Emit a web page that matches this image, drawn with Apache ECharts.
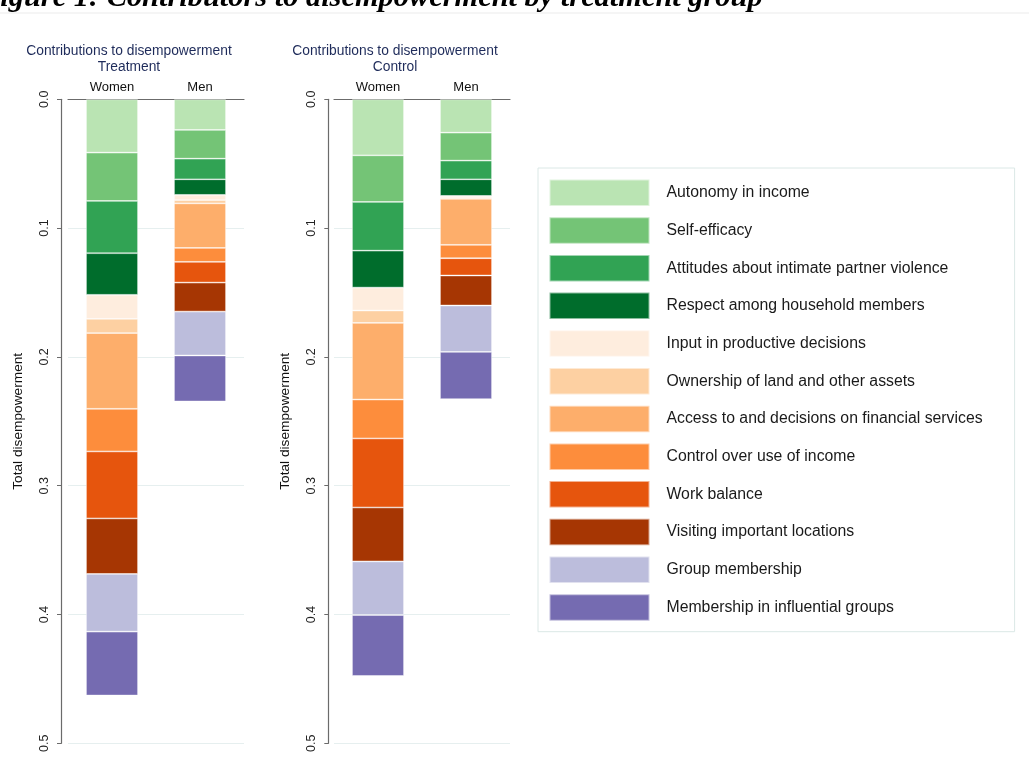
<!DOCTYPE html>
<html>
<head>
<meta charset="utf-8">
<script src="https://cdn.jsdelivr.net/npm/echarts@6/dist/echarts.min.js"></script>
<style>
  html, body { margin: 0; padding: 0; background: #ffffff; }
  #chart { width: 1029px; height: 780px; }
</style>
</head>
<body>
<div id="chart"></div>
<script>
// ---- data ----
const categories = ['Women', 'Men'];
const groups = ['Treatment', 'Control'];
const dimensions = [
  'Autonomy in income',
  'Self-efficacy',
  'Attitudes about intimate partner violence',
  'Respect among household members',
  'Input in productive decisions',
  'Ownership of land and other assets',
  'Access to and decisions on financial services',
  'Control over use of income',
  'Work balance',
  'Visiting important locations',
  'Group membership',
  'Membership in influential groups'
];
const colors = [
  '#bae4b3', '#74c476', '#31a354', '#006d2c',
  '#feedde', '#fdd0a2', '#fdae6b', '#fd8d3c',
  '#e6550d', '#a63603', '#bcbddc', '#756bb1'
];
// contribution of each dimension to total disempowerment
const treatmentWomen = [0.0414, 0.0375, 0.0406, 0.0323, 0.0186, 0.0111, 0.0588, 0.0331, 0.0520, 0.0431, 0.0448, 0.0496];
const treatmentMen   = [0.0238, 0.0223, 0.0160, 0.0121, 0.0041, 0.0025, 0.0346, 0.0108, 0.0161, 0.0225, 0.0341, 0.0357];
const controlWomen   = [0.0435, 0.0362, 0.0378, 0.0287, 0.0178, 0.0096, 0.0595, 0.0302, 0.0536, 0.0419, 0.0416, 0.0473];
const controlMen     = [0.0259, 0.0217, 0.0145, 0.0129, 0.0012, 0.0011, 0.0357, 0.0104, 0.0134, 0.0233, 0.0360, 0.0367];
const yTicks = { min: 0, max: 0.5, interval: 0.1 };

const panelData = [
  [treatmentWomen, treatmentMen],
  [controlWomen, controlMen]
];

const FONT = '"Liberation Sans", Arial, Helvetica, sans-serif';
const panelLeft = [68, 334];
const axisOffset = [7, 5.7];
const titleCenter = [129, 395];

const grids = panelLeft.map(l => ({ left: l, top: 99.3, width: 176, height: 644 }));

const xAxes = groups.map((g, i) => ({
  type: 'category',
  gridIndex: i,
  position: 'top',
  data: categories,
  axisLine: { onZero: false, lineStyle: { color: '#6b6b6b', width: 1.2 } },
  axisTick: { show: false },
  axisLabel: { fontFamily: FONT, fontSize: 13, color: '#111', margin: 5 }
}));

const yAxes = groups.map((g, i) => ({
  type: 'value',
  gridIndex: i,
  inverse: true,
  min: yTicks.min, max: yTicks.max, interval: yTicks.interval,
  offset: axisOffset[i],
  name: 'Total disempowerment',
  nameLocation: 'middle',
  nameGap: 36,
  nameTextStyle: { fontFamily: FONT, fontSize: 13.7, color: '#111' },
  axisLine: { show: true, lineStyle: { color: '#6b6b6b', width: 1.2 } },
  axisTick: { show: true, length: 4, lineStyle: { color: '#6b6b6b' } },
  axisLabel: {
    rotate: 90, margin: 10, fontFamily: FONT, fontSize: 12.5, color: '#222',
    formatter: v => v.toFixed(1)
  },
  splitLine: { show: true, lineStyle: { color: '#e6efef', width: 1 } }
}));

const series = [];
groups.forEach((g, gi) => {
  dimensions.forEach((name, di) => {
    series.push({
      type: 'bar',
      name: name,
      xAxisIndex: gi,
      yAxisIndex: gi,
      stack: 'stack' + gi,
      barWidth: 52,
      data: panelData[gi].map(arr => arr[di]),
      itemStyle: { color: colors[di], borderColor: 'rgba(255,255,255,0.55)', borderWidth: 0.8 },
      emphasis: { disabled: true },
      animation: false
    });
  });
});

const chart = echarts.init(document.getElementById('chart'), null, { renderer: 'canvas' });
chart.setOption({
  backgroundColor: '#ffffff',
  animation: false,
  title: groups.map((g, i) => ({
    text: 'Contributions to disempowerment\n' + g,
    left: titleCenter[i],
    top: 43,
    padding: 0,
    textAlign: 'center',
    textStyle: { fontFamily: FONT, fontSize: 13.8, fontWeight: 'normal', color: '#1e2b5a', lineHeight: 16 }
  })),
  legend: {
    orient: 'vertical',
    left: 538,
    top: 168,
    padding: [10.5, 32, 10, 10.5],
    itemWidth: 100,
    itemHeight: 26.5,
    itemGap: 9.2,
    icon: 'rect',
    data: dimensions,
    backgroundColor: '#ffffff',
    borderColor: '#dbe8e6',
    borderWidth: 1,
    borderRadius: 0,
    selectedMode: false,
    textStyle: { fontFamily: FONT, fontSize: 15.8, color: '#1a1a1a', padding: [0, 0, 0, 12] }
  },
  grid: grids,
  xAxis: xAxes,
  yAxis: yAxes,
  series: series,
  graphic: [
    {
      type: 'text',
      left: -20,
      top: -17,
      style: {
        text: 'Figure 1: Contributors to disempowerment by treatment group',
        font: 'italic bold 30.4px "Liberation Serif", "Times New Roman", serif',
        fill: '#000'
      }
    },
    {
      type: 'rect',
      left: 0,
      top: 12.5,
      shape: { width: 1029, height: 1 },
      style: { fill: '#ececec' }
    }
  ]
});
</script>
</body>
</html>
